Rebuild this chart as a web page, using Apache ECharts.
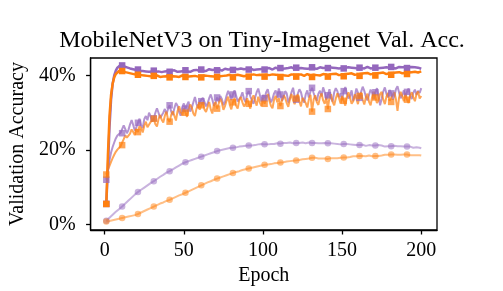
<!DOCTYPE html>
<html><head><meta charset="utf-8">
<script src="https://cdn.jsdelivr.net/npm/echarts@6.0.0/dist/echarts.min.js"></script>
<style>html,body{margin:0;padding:0;background:#fff}#c{width:503px;height:291px}</style>
</head><body><div id="c"></div>
<script>
const title = "MobileNetV3 on Tiny-Imagenet Val. Acc.";
const xTicks = [0, 50, 100, 150, 200];
const yTicks = [0, 20, 40];
const epochs = Array.from({length: 200}, (_, i) => i + 1);

const darkPurple = [
5.5,15.0,26.0,33.5,37.8,40.0,41.3,42.1,42.6,42.8,
42.7,42.5,42.6,42.2,42.3,41.9,42.0,41.7,41.8,41.5,
41.6,41.3,41.5,41.2,41.4,41.1,41.3,41.0,41.2,41.1,
41.3,41.0,41.4,41.1,41.2,40.9,41.3,41.1,41.5,41.2,
41.0,41.3,41.1,41.4,41.2,41.0,41.3,41.1,41.5,41.2,
41.4,41.1,41.3,41.0,41.2,41.4,41.1,41.5,41.3,41.2,
41.6,41.3,41.5,41.2,41.4,41.7,41.3,41.5,41.2,41.6,
41.4,41.7,41.5,41.3,41.6,41.8,41.4,41.6,41.5,41.7,
41.5,41.8,41.4,41.7,41.6,41.9,41.5,41.7,41.6,41.8,
41.6,41.9,41.7,41.5,41.8,41.6,42.0,41.7,41.9,41.8,
41.6,41.9,41.7,42.0,41.8,41.6,41.9,42.1,41.8,41.7,
42.0,41.8,42.1,41.9,41.7,42.0,41.8,42.2,41.9,41.8,
42.1,41.9,41.7,42.0,42.2,41.9,42.0,41.8,42.1,41.9,
42.2,41.9,42.0,41.8,42.1,42.2,41.9,42.0,41.8,42.1,
42.0,42.2,41.9,42.1,41.8,42.0,42.2,41.9,42.1,42.0,
41.9,42.1,42.0,42.2,41.9,42.1,41.8,42.0,42.2,41.9,
42.1,42.0,42.2,41.9,42.1,42.3,42.0,41.9,42.2,42.0,
42.1,41.9,42.2,42.0,42.3,42.1,41.9,42.2,42.0,42.1,
42.3,42.0,42.2,41.9,42.1,42.3,42.0,42.2,42.1,42.3,
42.0,42.2,42.1,42.3,42.0,42.2,42.4,42.1,42.3,41.8];

const darkOrange = [
5.5,18.5,29.0,34.8,37.8,39.5,40.4,40.9,41.2,41.3,
41.2,41.0,40.9,40.6,40.7,40.4,40.5,40.2,40.3,40.1,
40.2,39.9,40.1,39.8,40.0,39.7,39.9,40.0,39.8,39.6,
39.9,39.7,40.0,39.8,39.6,39.9,39.7,40.1,39.8,39.7,
39.5,39.9,39.8,40.0,39.7,39.9,39.6,39.8,40.0,39.7,
39.6,39.9,39.7,40.0,39.8,39.6,39.9,40.1,39.7,39.8,
39.5,39.9,40.0,39.7,39.9,40.1,39.8,40.0,39.7,39.9,
39.6,40.0,39.8,40.1,39.9,39.7,40.0,39.8,40.2,39.9,
39.5,40.1,39.9,40.2,39.8,40.0,40.1,39.8,40.2,40.0,
39.7,40.1,39.9,40.3,40.0,40.1,39.8,40.2,40.0,40.1,
39.7,40.2,40.0,40.1,39.9,40.3,40.0,40.2,39.9,40.1,
39.6,40.1,40.3,40.0,40.2,39.9,40.1,40.3,40.0,40.2,
39.7,40.2,40.0,40.3,40.1,39.9,40.2,40.4,40.1,40.0,
39.6,40.2,40.4,40.1,40.3,40.0,40.2,40.4,40.1,40.3,
39.7,40.3,40.1,40.4,40.2,40.5,40.3,40.1,40.4,40.2,
39.8,40.4,40.2,40.5,40.3,40.6,40.4,40.2,40.5,40.3,
39.9,40.5,40.3,40.6,40.4,40.7,40.5,40.3,40.6,40.5,
40.0,40.6,40.4,40.7,40.5,40.8,40.6,40.4,40.7,40.6,
40.2,40.7,40.5,40.8,40.6,40.9,40.7,40.6,40.8,40.7,
40.4,40.8,40.6,40.9,40.8,41.0,40.9,40.8,41.0,41.1];

const noisyPurple = [
12.0,14.6,17.2,19.3,20.8,22.0,23.1,23.9,24.3,24.6,
24.5,26.6,25.6,24.5,25.4,26.9,28.0,26.7,25.2,26.1,
27.3,28.4,26.6,25.9,28.3,29.1,28.0,30.0,29.0,27.6,
28.5,30.0,31.2,30.0,28.6,28.2,30.0,31.0,29.6,31.0,
32.0,30.3,29.4,31.2,32.6,31.9,30.2,29.2,31.5,32.5,
31.1,32.1,33.0,30.3,31.3,32.8,34.2,32.4,31.2,33.0,
33.1,34.0,32.9,31.7,32.5,33.9,34.9,33.5,31.9,32.6,
34.1,32.9,34.5,33.7,32.0,32.9,34.6,35.9,34.8,33.4,
34.9,36.0,34.6,33.0,32.5,34.3,35.5,33.7,32.9,35.0,
35.8,34.4,33.3,32.4,34.0,35.5,36.5,34.8,33.0,34.8,
33.9,35.5,36.3,34.3,32.8,33.7,35.2,36.0,34.1,36.5,
34.9,33.2,34.1,35.8,35.2,32.7,33.9,35.5,36.7,34.3,
33.5,35.1,36.3,35.5,33.7,32.7,34.9,36.0,34.1,35.7,
36.7,35.3,34.0,33.2,35.1,35.9,34.4,36.8,35.5,33.5,
34.7,36.3,33.8,33.0,35.5,36.6,35.8,34.2,35.2,33.4,
35.8,36.9,35.2,33.8,34.5,36.0,33.2,34.4,36.5,35.4,
34.0,35.6,37.0,35.9,34.3,33.3,34.8,36.2,35.3,33.6,
35.5,36.6,34.6,32.0,33.8,35.7,36.8,35.1,34.1,36.1,
35.2,33.5,34.4,36.3,37.1,35.4,33.9,34.7,36.0,34.2,
35.6,36.5,34.5,33.7,35.4,36.2,34.8,35.9,35.3,36.6];

const noisyOrange = [
13.4,14.6,15.7,16.8,17.8,18.7,19.5,20.1,20.6,21.0,
21.3,22.9,23.9,23.3,22.9,24.4,25.5,24.8,24.0,25.6,
24.8,26.4,25.8,24.7,26.5,27.6,26.1,25.6,27.5,27.1,
28.4,26.9,26.3,28.3,29.4,28.1,27.4,29.2,30.3,28.2,
27.6,29.4,30.4,29.2,27.9,30.4,31.7,30.3,29.3,31.2,
30.0,28.9,31.0,32.2,31.4,29.8,29.1,31.1,32.2,30.8,
32.0,32.9,30.9,30.2,31.5,32.9,30.9,29.8,32.2,32.9,
31.1,32.4,33.8,32.7,30.8,31.8,33.2,34.3,32.1,30.9,
32.8,34.0,31.9,31.1,33.4,34.2,32.8,31.7,32.4,33.9,
32.4,31.1,33.5,34.7,33.2,31.9,34.3,32.8,31.8,33.9,
32.4,34.1,35.0,33.3,31.9,31.2,33.5,34.5,32.8,33.9,
31.8,33.3,34.7,34.0,32.6,31.6,33.6,35.0,33.3,32.3,
33.8,34.9,33.0,31.7,34.0,34.4,32.6,31.4,33.6,34.8,
30.3,33.5,34.7,32.9,32.1,34.2,35.2,33.3,32.4,34.1,
31.0,34.2,35.0,32.9,32.0,33.8,35.2,34.0,32.5,34.5,
33.2,31.9,34.2,35.5,34.0,32.4,33.1,34.9,33.8,32.3,
34.5,35.4,33.5,32.2,34.1,35.1,32.9,32.0,34.3,35.6,
34.1,32.6,33.3,35.0,35.6,33.5,32.3,34.3,35.3,33.2,
32.9,34.8,35.5,33.6,30.5,34.1,35.6,34.5,33.1,35.1,
33.5,32.6,34.6,35.5,34.1,33.1,35.0,35.7,33.8,34.5];

const lightPurple = [
1.0,1.4,1.8,2.2,2.6,3.0,3.4,3.8,4.1,4.5,
4.8,5.2,5.6,6.0,6.4,6.8,7.2,7.6,8.0,8.3,
8.7,9.0,9.3,9.6,9.9,10.2,10.5,10.8,11.1,11.3,
11.6,11.9,12.2,12.5,12.8,13.1,13.3,13.6,13.9,14.1,
14.3,14.6,14.8,15.1,15.3,15.6,15.8,16.0,16.3,16.5,
16.7,16.9,17.0,17.2,17.3,17.5,17.6,17.8,17.9,18.1,
18.2,18.4,18.5,18.7,18.8,19.0,19.1,19.3,19.4,19.6,
19.7,19.8,19.9,20.0,20.1,20.2,20.3,20.4,20.5,20.5,
20.6,20.7,20.7,20.8,20.9,20.9,21.0,21.1,21.1,21.2,
21.2,21.3,21.2,21.4,21.3,21.4,21.5,21.4,21.6,21.5,
21.5,21.6,21.5,21.7,21.6,21.8,21.6,21.7,21.8,21.7,
21.7,21.8,21.9,21.8,21.9,21.8,22.0,21.9,21.8,21.9,
21.9,22.0,21.9,21.8,22.0,21.9,21.8,21.9,22.0,21.9,
21.9,21.8,21.9,22.0,21.8,21.9,21.8,21.7,21.9,21.8,
21.8,21.7,21.8,21.6,21.7,21.8,21.6,21.7,21.5,21.6,
21.6,21.5,21.6,21.4,21.5,21.3,21.4,21.5,21.3,21.4,
21.3,21.2,21.4,21.3,21.1,21.2,21.3,21.1,21.2,21.3,
21.2,21.1,21.3,21.0,21.2,21.1,20.9,21.1,21.0,21.1,
21.0,20.9,21.1,20.8,21.0,20.9,21.0,20.8,20.9,21.0,
20.9,20.7,20.9,20.8,20.6,20.8,20.7,20.5,20.6,20.4];

const lightOrange = [
0.8,0.9,0.9,1.0,1.1,1.2,1.3,1.4,1.5,1.6,
1.7,1.8,1.9,2.0,2.1,2.2,2.3,2.4,2.5,2.7,
2.8,3.0,3.2,3.4,3.6,3.8,4.0,4.2,4.4,4.6,
4.8,5.0,5.2,5.4,5.6,5.7,5.9,6.1,6.3,6.4,
6.6,6.8,7.0,7.2,7.4,7.6,7.8,8.0,8.1,8.3,
8.5,8.7,8.9,9.1,9.3,9.5,9.7,9.9,10.1,10.3,
10.5,10.7,10.9,11.1,11.3,11.4,11.6,11.8,12.0,12.1,
12.3,12.5,12.6,12.8,12.9,13.1,13.2,13.4,13.5,13.7,
13.8,13.9,14.1,14.2,14.3,14.4,14.6,14.7,14.8,14.9,
15.0,15.1,15.2,15.3,15.4,15.5,15.6,15.7,15.8,15.9,
16.0,16.0,16.1,16.2,16.2,16.3,16.4,16.4,16.5,16.5,
16.6,16.7,16.7,16.8,16.9,16.9,17.0,17.0,17.1,17.2,
17.2,17.3,17.3,17.4,17.5,17.5,17.6,17.7,17.7,17.8,
17.9,17.8,17.9,17.8,17.7,17.8,17.7,17.6,17.7,17.6,
17.6,17.7,17.8,17.7,17.8,17.9,17.8,18.0,17.9,18.0,
18.0,18.1,18.0,18.2,18.1,18.2,18.3,18.2,18.3,18.4,
18.4,18.3,18.4,18.5,18.3,18.4,18.5,18.4,18.3,18.4,
18.4,18.5,18.4,18.6,18.5,18.6,18.7,18.6,18.7,18.8,
18.8,18.7,18.8,18.6,18.7,18.8,18.7,18.6,18.8,18.7,
18.8,18.7,18.6,18.7,18.6,18.5,18.6,18.5,18.6,18.5];

const PURPLE = '#9467bd', ORANGE = '#ff7f0e';
const FONT = '"Liberation Serif", "Times New Roman", serif';

function mk(vals, color, opacity, symbol, width, msize) {
  return {
    type: 'line',
    data: epochs.map((e, i) => [e, vals[i]]),
    showSymbol: true,
    showAllSymbol: true,
    symbol: symbol,
    symbolSize: (v, p) => (p.dataIndex % 10 === 0 ? msize : 0),
    lineStyle: { color: color, width: width, opacity: opacity },
    itemStyle: { color: color, opacity: opacity, borderWidth: 0 },
    emphasis: { disabled: true },
    silent: true,
    animation: false
  };
}

const axisLine = { show: true, onZero: false, lineStyle: { color: '#000', width: 1.3 } };
const chart = echarts.init(document.getElementById('c'), null, { renderer: 'canvas' });
chart.setOption({
  animation: false,
  backgroundColor: '#fff',
  title: {
    text: title, left: 257, top: 24, textAlign: 'center',
    textStyle: { fontFamily: FONT, fontSize: 24, fontWeight: 'normal', color: '#000' }
  },
  grid: { left: 88, right: 66, top: 58, bottom: 58, show: true, borderColor: '#000', borderWidth: 1.3 },
  xAxis: {
    type: 'value', min: -8.95, max: 209.95,
    name: 'Epoch', nameLocation: 'middle', nameGap: 36,
    nameTextStyle: { fontFamily: FONT, fontSize: 20, color: '#000' },
    axisLine: axisLine,
    axisTick: { show: true, inside: false, length: 4.5, lineStyle: { color: '#000', width: 1.3 }, customValues: xTicks },
    axisLabel: { fontFamily: FONT, fontSize: 20, color: '#000', margin: 11, customValues: xTicks },
    splitLine: { show: false }
  },
  yAxis: {
    type: 'value', min: -1.5, max: 44.7,
    name: 'Validation Accuracy', nameLocation: 'middle', nameGap: 46, nameRotate: 90,
    nameTextStyle: { fontFamily: FONT, fontSize: 20, color: '#000' },
    axisLine: axisLine,
    axisTick: { show: true, inside: false, length: 4.5, lineStyle: { color: '#000', width: 1.3 }, customValues: yTicks },
    axisLabel: { fontFamily: FONT, fontSize: 20, color: '#000', margin: 15, customValues: yTicks, formatter: v => v + '%' },
    splitLine: { show: false }
  },
  series: [
    mk(lightPurple, PURPLE, 0.5, 'circle', 2, 6.5),
    mk(lightOrange, ORANGE, 0.5, 'circle', 2, 6.5),
    mk(noisyPurple, PURPLE, 0.7, 'rect', 2, 6.5),
    mk(noisyOrange, ORANGE, 0.7, 'rect', 2, 6.5),
    mk(darkPurple, PURPLE, 1, 'rect', 2.5, 6.5),
    mk(darkOrange, ORANGE, 1, 'rect', 2.5, 6.5)
  ]
});
</script></body></html>
